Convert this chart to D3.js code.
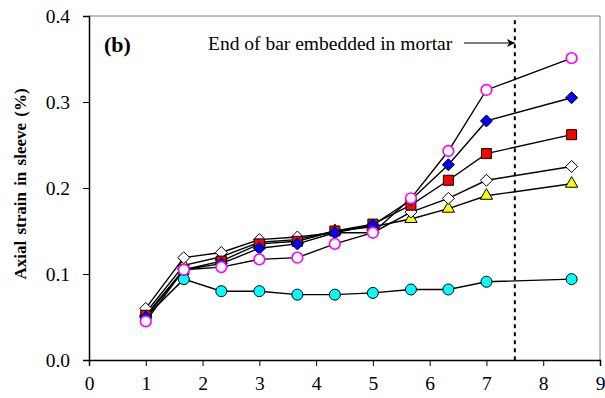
<!DOCTYPE html>
<html>
<head>
<meta charset="utf-8">
<script src="https://cdn.jsdelivr.net/npm/d3@7"></script>
<style>
  body { margin: 0; background: #fff; }
  svg { display: block; }
</style>
</head>
<body>
<script>
'use strict';

const xs = [1, 1.67, 2.33, 3, 3.67, 4.33, 5, 5.67, 6.33, 7, 8.5];
const cyanVals = [0.050, 0.094, 0.080, 0.080, 0.076, 0.076, 0.078, 0.082, 0.082, 0.091, 0.094];
const yellowVals = [0.055, 0.110, 0.120, 0.137, 0.140, 0.150, 0.155, 0.164, 0.176, 0.191, 0.205];
const whiteVals = [0.060, 0.119, 0.125, 0.140, 0.143, 0.148, 0.148, 0.172, 0.188, 0.209, 0.225];
const redVals = [0.052, 0.105, 0.115, 0.135, 0.138, 0.150, 0.158, 0.180, 0.209, 0.240, 0.262];
const blueVals = [0.050, 0.105, 0.112, 0.130, 0.135, 0.148, 0.157, 0.186, 0.227, 0.278, 0.305];
const magentaVals = [0.045, 0.105, 0.108, 0.117, 0.119, 0.135, 0.148, 0.188, 0.243, 0.314, 0.351];
const xTicks = [0, 1, 2, 3, 4, 5, 6, 7, 8, 9];
const yTicks = [0, 0.1, 0.2, 0.3, 0.4];
const mortarEnd = 7.5;

const W = 605, H = 398;
const m = { left: 89, right: 5, top: 16, bottom: 38 };
const serif = "'Liberation Serif', 'Times New Roman', serif";

const svg = d3.select('body').append('svg').attr('width', W).attr('height', H);

const x = d3.scaleLinear().domain([0, 9]).range([m.left, W - m.right]);
const y = d3.scaleLinear().domain([0, 0.4]).range([H - m.bottom, m.top]);

// frame (top/right in grey)
svg.append('path')
    .attr('d', `M ${x(0)} ${y(0.4)} L ${x(9)} ${y(0.4)} L ${x(9)} ${y(0)}`)
    .attr('fill', 'none').attr('stroke', '#808080').attr('stroke-width', 1);

const xAxis = svg.append('g')
    .attr('transform', `translate(0, ${y(0)})`)
    .call(d3.axisBottom(x).tickValues(xTicks).tickSize(6).tickPadding(10).tickFormat(d3.format('d')));
const yAxis = svg.append('g')
    .attr('transform', `translate(${x(0)}, 0)`)
    .call(d3.axisLeft(y).tickValues(yTicks).tickSize(6).tickPadding(13).tickFormat(d3.format('.1f')));
[xAxis, yAxis].forEach(a => {
  a.attr('font-family', serif).attr('font-size', 19.5);
  a.select('.domain').attr('stroke', '#000').attr('stroke-width', 1.5);
  a.selectAll('.tick line').attr('stroke', '#000');
  a.selectAll('.tick text').attr('fill', '#000');
});

svg.append('text')
    .attr('transform', `translate(20, ${(y(0) + y(0.4)) / 2 - 4}) rotate(-90)`)
    .attr('text-anchor', 'middle')
    .attr('dy', '0.35em')
    .attr('font-family', serif)
    .attr('font-size', 17).attr('font-weight', 'bold')
    .attr('word-spacing', 2)
    .text('Axial strain in sleeve (%)');

svg.append('text')
    .attr('x', 104).attr('y', 52)
    .attr('font-family', serif)
    .attr('font-size', 22).attr('font-weight', 'bold')
    .text('(b)');

// dashed line at end of embedded bar
svg.append('line')
    .attr('x1', x(mortarEnd)).attr('x2', x(mortarEnd))
    .attr('y1', y(0.395)).attr('y2', y(0))
    .attr('stroke', '#000').attr('stroke-width', 2).attr('stroke-dasharray', '4,4');

svg.append('text')
    .attr('x', 208).attr('y', 50)
    .attr('font-family', serif)
    .attr('font-size', 19.5)
    .text('End of bar embedded in mortar');

svg.append('defs').append('marker')
    .attr('id', 'arrow').attr('viewBox', '0 0 10 10')
    .attr('refX', 10).attr('refY', 5)
    .attr('markerWidth', 9).attr('markerHeight', 8)
    .attr('markerUnits', 'userSpaceOnUse')
    .attr('orient', 'auto')
    .append('path').attr('d', 'M 0 0 L 10 5 L 0 10 L 3 5 Z').attr('fill', '#000');
svg.append('line')
    .attr('x1', 464).attr('x2', x(mortarEnd)).attr('y1', 43).attr('y2', 43)
    .attr('stroke', '#000').attr('stroke-width', 1.2)
    .attr('marker-end', 'url(#arrow)');

const series = [
  { vals: cyanVals, shape: d3.symbolCircle, size: 95, fill: '#00ffff', stroke: '#000', sw: 1 },
  { vals: yellowVals, shape: d3.symbolTriangle, size: 65, fill: '#ffff00', stroke: '#000', sw: 1 },
  { vals: whiteVals, shape: 'diamond', r: 6, fill: '#fff', stroke: '#000', sw: 1 },
  { vals: redVals, shape: d3.symbolSquare, size: 100, fill: '#ff0000', stroke: '#000', sw: 1 },
  { vals: blueVals, shape: 'diamond', r: 6, fill: '#0000ff', stroke: '#000', sw: 1 },
  { vals: magentaVals, shape: d3.symbolCircle, size: 90, fill: '#fff', stroke: '#ff00ff', sw: 1.6 }
];

const line = d3.line().x(d => x(d[0])).y(d => y(d[1]));

series.forEach(s => {
  const pts = xs.map((xv, i) => [xv, s.vals[i]]);
  svg.append('path').datum(pts)
      .attr('d', line)
      .attr('fill', 'none').attr('stroke', '#000').attr('stroke-width', 1.4);
});

series.forEach(s => {
  const pts = xs.map((xv, i) => [xv, s.vals[i]]);
  const sym = s.shape === 'diamond'
    ? `M 0 ${-s.r} L ${s.r} 0 L 0 ${s.r} L ${-s.r} 0 Z`
    : d3.symbol().type(s.shape).size(s.size)();
  svg.append('g').selectAll('path').data(pts).enter().append('path')
      .attr('transform', d => `translate(${x(d[0])}, ${y(d[1])})`)
      .attr('d', sym)
      .attr('fill', s.fill).attr('stroke', s.stroke).attr('stroke-width', s.sw);
});
</script>
</body>
</html>
